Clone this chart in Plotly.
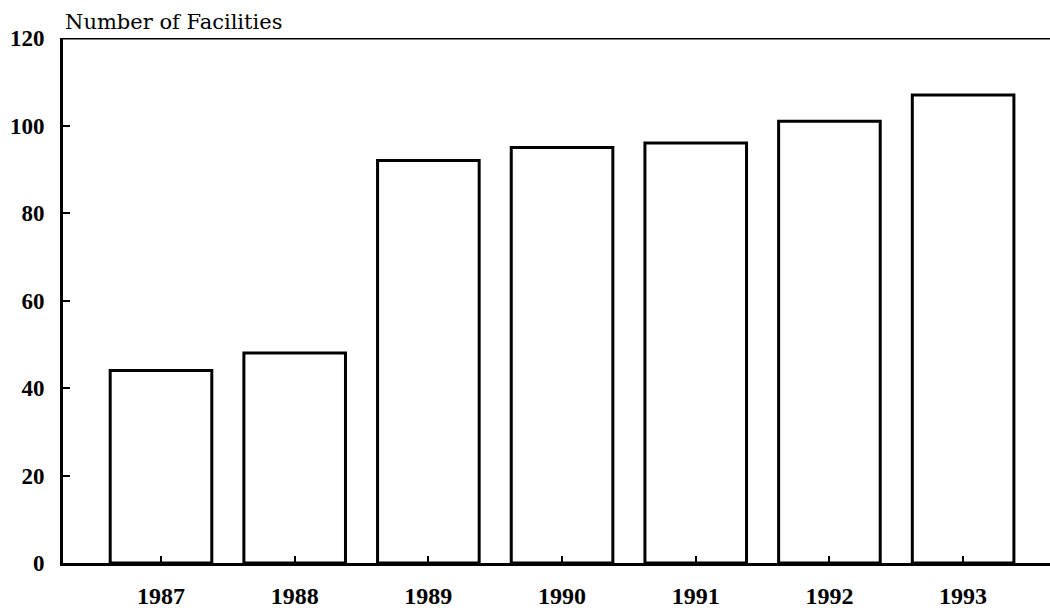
import plotly.graph_objects as go

years = ["1987", "1988", "1989", "1990", "1991", "1992", "1993"]
facilities = [44, 48, 92, 95, 96, 101, 107]
y_ticks = [0, 20, 40, 60, 80, 100, 120]

serif = "Liberation Serif"

fig = go.Figure()
fig.add_trace(go.Bar(
    x=list(range(len(years))),
    y=facilities,
    width=0.76,
    marker=dict(color="rgba(0,0,0,0)", line=dict(color="black", width=3)),
    hoverinfo="x+y",
))

fig.update_layout(
    width=1050, height=613,
    margin=dict(l=63, r=0, t=38, b=50),
    paper_bgcolor="white", plot_bgcolor="white",
    showlegend=False,
    font=dict(family=serif, color="black"),
    xaxis=dict(
        range=[-0.733, 6.65],
        tickmode="array",
        tickvals=list(range(len(years))),
        ticktext=years,
        ticks="inside", ticklen=7, tickwidth=2, tickcolor="black",
        showline=True, linecolor="black", linewidth=3,
        showgrid=False, zeroline=False, automargin=False,
        tickfont=dict(size=24, family=serif, weight="bold"),
        ticklabelstandoff=9,
    ),
    yaxis=dict(
        range=[0, 120],
        tickmode="array",
        tickvals=y_ticks,
        ticks="inside", ticklen=7, tickwidth=2, tickcolor="black",
        showline=True, linecolor="black", linewidth=3,
        showgrid=False, zeroline=False, automargin=False,
        tickfont=dict(size=23, family=serif, weight="bold"),
        ticklabelstandoff=11,
    ),
    shapes=[dict(type="line", xref="paper", yref="y", x0=0, x1=1, y0=120, y1=120,
                 line=dict(color="black", width=3))],
    annotations=[dict(text="Number of Facilities", xref="paper", yref="paper",
                      x=0, y=1, xanchor="left", yanchor="bottom", yshift=2,
                      showarrow=False, font=dict(size=21, family="DejaVu Serif"))],
)

fig.write_html("out.html", config={"displayModeBar": False},
               post_script="document.body.style.margin='0';")
